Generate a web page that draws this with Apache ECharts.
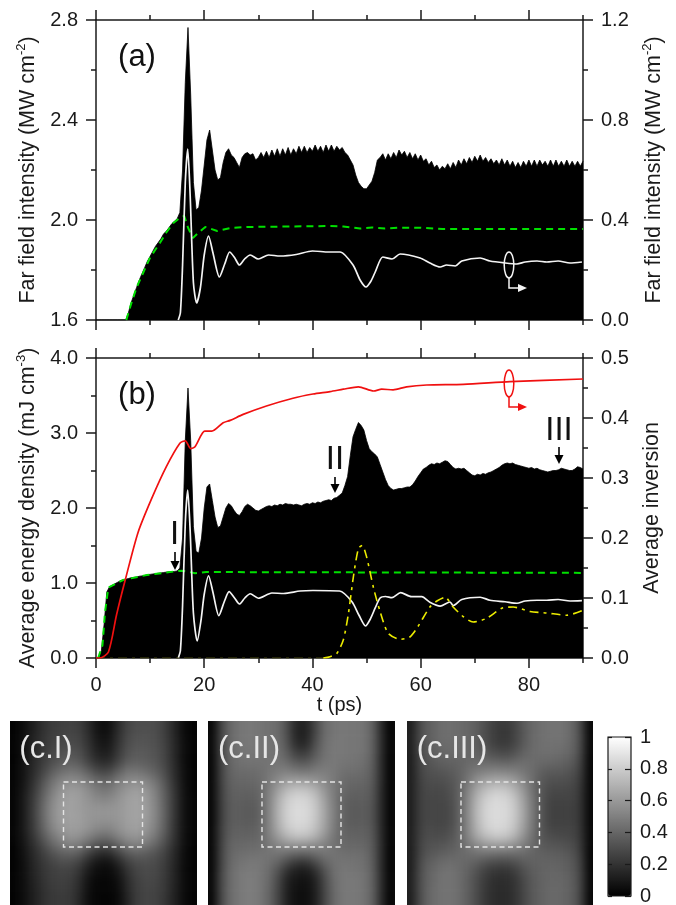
<!DOCTYPE html>
<html>
<head>
<meta charset="utf-8">
<style>html,body{margin:0;padding:0;background:#fff;width:676px;height:905px;overflow:hidden}#c{width:676px;height:930px}</style>
<script src="https://cdn.jsdelivr.net/npm/echarts@6/dist/echarts.min.js"></script>
</head>
<body>
<div id="c"></div>
<script>
// time base of the dense envelopes: 0 .. 90 ps, one value every 0.5 ps
const tFine = Array.from({length: 181}, (_, i) => i / 2);

// panel (a), left axis
const blackA = [
1.6,1.6,1.6,1.6,1.6,1.6,1.6,1.6,1.6,1.6,1.6,1.6,1.63,1.67,1.70,1.73,1.76,1.785,1.81,1.835,
1.855,1.875,1.895,1.91,1.925,1.945,1.955,1.97,1.985,1.995,2.005,2.03,2.2,2.55,2.77,2.5,2.15,2.04,2.05,2.12,
2.22,2.32,2.36,2.28,2.2,2.16,2.17,2.23,2.27,2.285,2.26,2.25,2.23,2.21,2.25,2.265,2.27,2.26,2.265,2.24,
2.25,2.27,2.25,2.275,2.25,2.28,2.255,2.285,2.255,2.285,2.26,2.29,2.26,2.285,2.265,2.295,2.27,2.295,2.27,2.29,
2.275,2.3,2.275,2.295,2.27,2.3,2.275,2.3,2.275,2.295,2.28,2.29,2.27,2.26,2.24,2.22,2.18,2.15,2.135,2.125,
2.125,2.14,2.155,2.19,2.24,2.25,2.265,2.24,2.265,2.245,2.27,2.25,2.28,2.26,2.275,2.25,2.27,2.245,2.265,2.24,
2.26,2.235,2.245,2.22,2.235,2.21,2.22,2.2,2.215,2.205,2.225,2.205,2.23,2.21,2.24,2.22,2.245,2.225,2.25,2.23,
2.255,2.235,2.26,2.235,2.25,2.23,2.245,2.225,2.24,2.22,2.245,2.22,2.24,2.215,2.235,2.21,2.23,2.21,2.235,2.215,
2.24,2.215,2.24,2.215,2.24,2.22,2.235,2.215,2.24,2.215,2.24,2.215,2.235,2.215,2.24,2.215,2.235,2.215,2.235,2.215,
2.235];
const greenAT = [5.6,6.5,7.5,8.7,10,11.8,13,14.3,15.3,16.3,17,17.9,19,20.2,21.2,22.4,24.9,28,43,45.7,48.8,51,53.4,56,60,64,90];
const greenAV = [1.6,1.665,1.73,1.788,1.85,1.908,1.95,1.988,2.005,2.016,1.97,1.928,1.95,1.972,1.965,1.956,1.968,1.972,1.976,1.974,1.966,1.97,1.966,1.969,1.969,1.964,1.964];
// panel (a), right axis
const whiteAT = [15.2,15.6,16,16.5,16.95,17.4,18,18.6,19.3,20,20.8,21.6,22.8,23.8,24.7,25.6,26.5,27.5,28.5,30,31.9,34,37,40,43,45.1,47.5,48.8,49.9,50.8,51.6,53,54.7,56.2,59.9,61.7,63.6,64.8,66.4,67.6,71,72.8,75.6,77.8,79.3,81.5,83.3,85.4,87.6,89.8];
const whiteAV = [0,.03,.22,.55,.684,.5,.15,.068,.13,.26,.336,.27,.172,.225,.272,.25,.22,.245,.26,.244,.26,.256,.262,.276,.272,.272,.22,.16,.132,.155,.192,.252,.244,.264,.248,.228,.212,.22,.216,.236,.248,.236,.228,.224,.232,.236,.232,.236,.228,.232];

// panel (b), left axis
const blackB = [
0,0,.1,.45,.88,.95,.97,.99,1.01,1.03,1.04,1.05,1.06,1.07,1.075,1.08,1.09,1.095,1.10,1.11,
1.115,1.12,1.125,1.13,1.135,1.14,1.145,1.15,1.15,1.155,1.16,1.2,1.6,2.9,3.6,2.9,1.75,1.42,1.4,1.6,
2.0,2.28,2.32,2.1,1.88,1.74,1.76,1.88,2.0,2.06,2.03,1.97,1.92,1.9,1.95,2.02,2.05,2.03,2.0,1.97,
1.96,1.98,2.0,2.02,2.03,2.02,2.04,2.03,2.05,2.04,2.06,2.05,2.05,2.04,2.05,2.04,2.03,2.05,2.06,2.05,
2.07,2.06,2.08,2.07,2.09,2.1,2.11,2.1,2.13,2.14,2.17,2.2,2.3,2.42,2.7,2.95,3.05,3.14,3.1,3.04,
2.9,2.79,2.75,2.72,2.68,2.58,2.48,2.38,2.3,2.26,2.24,2.25,2.26,2.26,2.27,2.28,2.28,2.31,2.36,2.42,
2.47,2.52,2.54,2.57,2.59,2.58,2.6,2.59,2.61,2.63,2.62,2.58,2.54,2.52,2.53,2.52,2.53,2.5,2.47,2.44,
2.43,2.45,2.44,2.46,2.45,2.47,2.48,2.5,2.52,2.54,2.57,2.59,2.6,2.59,2.6,2.58,2.57,2.56,2.55,2.54,
2.53,2.54,2.52,2.53,2.51,2.5,2.49,2.48,2.49,2.5,2.5,2.51,2.53,2.52,2.51,2.5,2.5,2.52,2.55,2.54,
2.52];
const greenBT = [0.4,1.2,1.66,2.28,5,9.4,15.2,15.8,17,18.3,20.4,89.6];
const greenBV = [0,.17,.61,.94,1.04,1.107,1.16,1.164,1.151,1.13,1.146,1.135];
const whiteBT = [15.2,15.6,16,16.5,16.95,17.4,18,18.7,19.4,20,20.8,21.6,22.7,23.7,24.6,25.6,26.5,27.5,28.5,30,32.5,34.7,37.7,40.1,45,47.3,48.6,49.8,50.7,51.6,52.5,53.5,54.7,56.3,58.3,60.2,61.7,63.6,65.4,66,67.6,71,72.8,75.6,77.8,79.3,81.5,83.3,85.4,87.6,89.8];
const whiteBV = [0,.1,.7,1.8,2.24,1.7,.6,.227,.5,.85,1.097,.88,.564,.75,.884,.8,.72,.8,.857,.797,.867,.86,.893,.9,.893,.75,.57,.427,.52,.667,.8,.82,.804,.871,.818,.818,.744,.693,.747,.7,.78,.81,.77,.75,.73,.76,.77,.77,.78,.76,.765];
const yellowBT = [42,43.25,44.5,45.7,46.6,47.6,48.5,49.2,50,51.3,52.5,54,56.2,58,59.5,61.7,63,64.5,66,67.9,69.7,72.2,75.2,77.1,80.2,83.3,87,89.8];
const yellowBV = [0,.018,.06,.24,.57,1.1,1.46,1.5,1.35,.93,.62,.33,.25,.28,.42,.68,.76,.81,.68,.55,.48,.53,.67,.68,.62,.6,.57,.63];
const yellowFlatT = [0,42];
const yellowFlatV = [0,0];
// panel (b), right axis
const redBT = [0,.7,2.3,3.8,5.4,7.8,10.3,13,15.5,16.5,17.5,18.3,20.1,21.4,23.5,24.8,27.2,31.5,36.4,40.1,43.25,45.7,48.5,51.3,52.8,54.9,57.4,61.1,67.9,76.5,90];
const redBV = [0,0,.01,.072,.13,.21,.266,.319,.358,.362,.349,.352,.378,.378,.392,.396,.406,.42,.433,.44,.444,.448,.452,.445,.448,.447,.452,.455,.456,.4605,.465];

// intensity maps, 20 rows of 20 cells
const mapI = [
[.01,.05,.12,.19,.23,.25,.26,.24,.16,.06,.05,.16,.26,.3,.31,.3,.25,.16,.05,.01],
[.01,.05,.13,.19,.24,.26,.27,.25,.17,.07,.06,.17,.27,.31,.32,.3,.25,.16,.05,.01],
[.01,.06,.14,.2,.25,.28,.29,.27,.19,.09,.08,.19,.29,.33,.33,.31,.26,.17,.06,.01],
[.01,.06,.15,.21,.27,.31,.33,.3,.21,.12,.11,.21,.31,.35,.35,.32,.27,.17,.06,.01],
[.01,.07,.16,.23,.3,.36,.38,.35,.26,.18,.17,.26,.36,.38,.37,.34,.28,.18,.06,.01],
[.02,.08,.17,.26,.36,.43,.46,.44,.36,.28,.27,.36,.45,.46,.43,.38,.3,.19,.07,.01],
[.02,.08,.19,.31,.43,.52,.55,.53,.47,.4,.39,.47,.53,.55,.52,.45,.34,.2,.07,.01],
[.02,.09,.21,.35,.48,.58,.61,.6,.54,.47,.46,.53,.59,.62,.59,.5,.37,.22,.08,.01],
[.02,.1,.23,.38,.52,.61,.63,.61,.57,.53,.52,.57,.62,.64,.61,.52,.38,.23,.08,.02],
[.02,.1,.24,.4,.54,.62,.63,.61,.59,.58,.58,.59,.62,.64,.62,.53,.39,.23,.08,.02],
[.02,.1,.24,.4,.54,.62,.63,.62,.59,.58,.58,.59,.62,.64,.62,.53,.39,.23,.08,.02],
[.02,.1,.23,.38,.52,.6,.62,.61,.58,.54,.53,.57,.61,.63,.6,.51,.38,.22,.08,.02],
[.02,.09,.21,.34,.46,.55,.59,.57,.51,.45,.44,.51,.57,.59,.56,.47,.35,.21,.07,.01],
[.01,.08,.18,.28,.39,.47,.5,.47,.39,.31,.3,.38,.47,.5,.47,.4,.3,.19,.07,.01],
[.01,.07,.16,.24,.31,.37,.38,.34,.24,.16,.15,.24,.33,.37,.36,.32,.26,.17,.06,.01],
[.01,.06,.15,.21,.26,.3,.29,.24,.14,.07,.06,.13,.23,.29,.31,.29,.24,.16,.06,.01],
[.01,.06,.14,.2,.24,.26,.25,.19,.09,.04,.03,.08,.18,.26,.29,.28,.23,.15,.05,.01],
[.01,.05,.13,.19,.23,.25,.23,.16,.06,.02,.02,.05,.15,.24,.28,.27,.22,.15,.05,.01],
[.01,.05,.12,.18,.22,.24,.22,.15,.05,.02,.02,.04,.14,.23,.27,.26,.22,.14,.05,.01],
[.01,.05,.12,.18,.22,.23,.22,.14,.05,.02,.01,.04,.13,.23,.27,.26,.21,.14,.05,.01]];
const mapII = [
[.03,.28,.42,.46,.47,.46,.44,.42,.3,.14,.13,.28,.42,.46,.47,.46,.46,.4,.18,.01],
[.03,.28,.42,.46,.47,.46,.44,.42,.3,.13,.12,.28,.42,.46,.47,.46,.46,.4,.18,.01],
[.03,.28,.42,.46,.47,.46,.45,.43,.32,.16,.15,.31,.43,.47,.47,.46,.46,.4,.18,.01],
[.03,.28,.42,.45,.46,.46,.45,.44,.36,.24,.23,.35,.44,.47,.47,.46,.45,.4,.18,.01],
[.03,.28,.41,.44,.45,.45,.45,.46,.42,.35,.34,.41,.46,.47,.46,.45,.44,.39,.18,.01],
[.03,.27,.4,.42,.42,.43,.46,.49,.5,.47,.46,.49,.49,.47,.44,.43,.42,.38,.18,.01],
[.03,.27,.39,.4,.4,.42,.47,.55,.61,.62,.61,.58,.53,.47,.42,.4,.4,.37,.18,.01],
[.03,.26,.38,.38,.38,.4,.49,.62,.73,.77,.76,.7,.58,.48,.41,.38,.38,.36,.17,.01],
[.03,.26,.37,.37,.36,.39,.5,.67,.8,.84,.83,.76,.62,.48,.39,.36,.37,.35,.17,.01],
[.03,.25,.37,.36,.35,.38,.5,.69,.82,.86,.85,.78,.64,.49,.39,.35,.36,.34,.17,.01],
[.03,.25,.37,.36,.35,.38,.5,.69,.82,.86,.85,.78,.64,.49,.39,.35,.36,.34,.17,.01],
[.03,.26,.37,.37,.36,.39,.5,.67,.8,.84,.83,.76,.63,.48,.39,.36,.37,.35,.17,.01],
[.03,.26,.38,.38,.38,.4,.49,.61,.72,.77,.76,.7,.58,.46,.4,.38,.38,.36,.17,.01],
[.03,.27,.4,.4,.41,.42,.46,.52,.57,.58,.57,.55,.5,.44,.41,.4,.4,.37,.18,.01],
[.03,.28,.41,.43,.44,.45,.45,.45,.42,.38,.37,.42,.45,.45,.44,.43,.43,.38,.18,.01],
[.03,.28,.42,.45,.47,.47,.44,.38,.28,.2,.19,.28,.38,.44,.46,.45,.44,.39,.18,.01],
[.03,.29,.43,.47,.48,.47,.42,.31,.17,.1,.09,.17,.31,.43,.47,.46,.45,.4,.18,.01],
[.03,.29,.43,.47,.49,.47,.41,.28,.13,.07,.06,.13,.28,.42,.47,.47,.46,.4,.18,.01],
[.03,.29,.43,.47,.49,.47,.4,.27,.12,.06,.05,.12,.27,.41,.47,.47,.46,.4,.18,.01],
[.03,.29,.43,.47,.49,.47,.4,.27,.12,.06,.05,.12,.27,.41,.47,.47,.46,.4,.18,.01]];
const mapIII = [
[.12,.3,.38,.42,.43,.42,.4,.36,.3,.24,.22,.27,.35,.41,.44,.45,.45,.42,.3,.03],
[.12,.3,.38,.42,.43,.42,.4,.36,.29,.23,.2,.26,.34,.41,.44,.45,.45,.42,.3,.03],
[.12,.3,.37,.41,.42,.42,.4,.36,.3,.24,.22,.27,.35,.41,.44,.44,.44,.41,.3,.03],
[.12,.29,.36,.39,.41,.41,.4,.38,.34,.3,.28,.32,.38,.42,.43,.43,.42,.4,.29,.03],
[.12,.28,.34,.37,.38,.39,.41,.42,.42,.4,.39,.41,.43,.42,.41,.4,.39,.37,.27,.03],
[.12,.27,.32,.33,.35,.38,.43,.48,.51,.52,.51,.5,.46,.42,.37,.35,.35,.33,.25,.03],
[.12,.26,.3,.3,.32,.37,.46,.57,.64,.66,.66,.61,.52,.42,.34,.31,.31,.3,.23,.03],
[.12,.25,.29,.28,.3,.37,.5,.65,.75,.79,.78,.71,.58,.43,.33,.28,.28,.28,.22,.03],
[.12,.25,.28,.27,.29,.37,.52,.7,.81,.85,.84,.77,.62,.45,.32,.26,.26,.27,.21,.03],
[.12,.25,.28,.27,.28,.37,.53,.72,.83,.86,.85,.79,.64,.46,.32,.25,.25,.26,.21,.03],
[.12,.25,.28,.27,.28,.37,.53,.72,.83,.86,.85,.79,.64,.46,.32,.25,.25,.26,.21,.03],
[.12,.25,.29,.27,.29,.37,.52,.7,.82,.85,.84,.77,.62,.45,.32,.26,.26,.27,.21,.03],
[.12,.26,.3,.29,.31,.38,.51,.66,.75,.79,.78,.71,.57,.43,.33,.29,.28,.28,.22,.03],
[.12,.27,.32,.32,.35,.39,.46,.54,.6,.62,.61,.57,.49,.41,.35,.33,.32,.31,.23,.03],
[.12,.28,.35,.37,.39,.41,.42,.44,.44,.42,.41,.42,.41,.39,.38,.37,.36,.34,.25,.03],
[.12,.3,.38,.41,.43,.42,.4,.36,.31,.28,.27,.3,.35,.38,.39,.39,.38,.36,.27,.03],
[.12,.31,.4,.43,.45,.43,.38,.31,.24,.2,.19,.23,.3,.36,.39,.4,.39,.37,.28,.03],
[.12,.31,.4,.44,.45,.43,.37,.29,.22,.17,.17,.2,.28,.35,.39,.4,.4,.38,.28,.03],
[.12,.31,.41,.44,.45,.43,.37,.29,.21,.17,.16,.2,.27,.35,.39,.41,.4,.38,.28,.03],
[.12,.31,.41,.44,.45,.43,.37,.29,.21,.17,.16,.2,.27,.35,.39,.41,.4,.38,.28,.03]];

const xMajor = [0,20,40,60,80];
const xMinor = [10,30,50,70,90];

const FONT = '"Liberation Sans", Arial, sans-serif';
const INK = '#1a1a1a';
const AXW = 1.5;
const zip = (a, b) => a.map((v, i) => [v, b[i]]);

const line = {show: true, onZero: false, lineStyle: {color: INK, width: AXW}};
const labelStyle = {fontFamily: FONT, fontSize: 20, color: INK};

const grids = [], xAxes = [], yAxes = [], series = [];

function xAxisPair(g, ticks, len, withLine, withLabels, name) {
  ['bottom', 'top'].forEach(pos => {
    xAxes.push({
      type: 'value', gridIndex: g, position: pos, min: 0, max: 90,
      axisLine: withLine ? line : {show: false},
      axisTick: {show: true, customValues: ticks, length: len, lineStyle: {color: INK, width: AXW}},
      axisLabel: (withLabels && pos === 'bottom')
        ? Object.assign({show: true, customValues: ticks, margin: 17}, labelStyle) : {show: false},
      splitLine: {show: false},
      name: (name && pos === 'bottom') ? name : '',
      nameLocation: 'middle', nameGap: 37,
      nameTextStyle: labelStyle
    });
  });
}
function yAxisOf(g, pos, min, max, interval, dec, name, gap) {
  return {
    type: 'value', gridIndex: g, position: pos, min, max, interval,
    axisLine: line,
    axisTick: {show: true, length: 10, lineStyle: {color: INK, width: AXW}},
    minorTick: {show: true, splitNumber: 2, length: 5, lineStyle: {color: INK, width: AXW}},
    axisLabel: Object.assign({show: true, margin: 18, formatter: v => v.toFixed(dec)}, labelStyle),
    splitLine: {show: false}, minorSplitLine: {show: false},
    name, nameLocation: 'middle', nameGap: gap, nameRotate: 90,
    nameTextStyle: {
      fontFamily: FONT, fontSize: 21.5, color: INK,
      rich: {
        m: {fontFamily: FONT, fontSize: 21.5, color: INK, lineHeight: 24, verticalAlign: 'bottom'},
        s: {fontFamily: FONT, fontSize: 13, color: INK, lineHeight: 24, verticalAlign: 'top'}
      }
    }
  };
}
const rect = top => ({left: 96, top, width: 487, height: 300, containLabel: false, outerBoundsMode: 'none'});
function panel(top, hasLabels, yL, yR) {
  const g = grids.length;
  grids.push(rect(top));
  xAxisPair(g, xMajor, 10, true, hasLabels, hasLabels ? 't (ps)' : '');
  yAxes.push(yL, yR);
  const gm = grids.length;
  grids.push(rect(top));
  xAxisPair(gm, xMinor, 5, false, false, '');
  yAxes.push({type: 'value', gridIndex: gm, min: 0, max: 1, show: false});
  return {x: xAxes.length - 4, y: yAxes.length - 3};
}
const pa = panel(20, false,
  yAxisOf(0, 'left', 1.6, 2.8, 0.4, 1, '{m|Far field intensity (MW cm}{s|-2}{m|)}', 52),
  yAxisOf(0, 'right', 0, 1.2, 0.4, 1, '{m|Far field intensity (MW cm}{s|-2}{m|)}', 58));
const pb = panel(358, true,
  yAxisOf(2, 'left', 0, 4, 1, 1, '{m|Average energy density (mJ cm}{s|-3}{m|)}', 52),
  yAxisOf(2, 'right', 0, 0.5, 0.1, 1, 'Average inversion', 58));

function lineSeries(name, p, yOff, data, color, width, dash, smooth) {
  return {
    name, type: 'line', xAxisIndex: p.x, yAxisIndex: p.y + yOff, data,
    showSymbol: false, symbol: 'none', smooth: smooth ? 0.25 : false, animation: false, silent: true,
    lineStyle: {color, width, type: dash || 'solid'}, z: 3
  };
}
function areaSeries(name, p, data) {
  return {
    name, type: 'line', xAxisIndex: p.x, yAxisIndex: p.y, data,
    showSymbol: false, symbol: 'none', animation: false, silent: true,
    lineStyle: {color: '#000', width: 0.8},
    areaStyle: {color: '#000', opacity: 1, origin: 'start'}, z: 2
  };
}
const GREEN = '#00e000', YEL = '#ecec00', RED = '#f01010';
series.push(
  areaSeries('Far field envelope', pa, zip(tFine, blackA)),
  lineSeries('Far field average', pa, 0, zip(greenAT, greenAV), GREEN, 2, [7, 5], false),
  lineSeries('Far field right', pa, 1, zip(whiteAT, whiteAV), '#f4f4f4', 1.7, null, true),
  areaSeries('Energy density envelope', pb, zip(tFine, blackB)),
  lineSeries('Energy density average', pb, 0, zip(greenBT, greenBV), GREEN, 2, [7, 5], false),
  lineSeries('Energy density fine', pb, 0, zip(whiteBT, whiteBV), '#f4f4f4', 1.7, null, true),
  lineSeries('Energy density lower flat', pb, 0, zip(yellowFlatT, yellowFlatV), '#4a4a10', 1, [9, 5, 3, 5], false),
  lineSeries('Energy density lower', pb, 0, zip(yellowBT, yellowBV), YEL, 1.6, [9, 5, 3, 5], true),
  lineSeries('Average inversion', pb, 1, zip(redBT, redBV), RED, 1.7, null, true)
);

// maps: one extra cell round the picture so the softening has no pale rim
const CW = 9.35, CH = 9.2, TOP = 721, idx = Array.from({length: 22}, (_, i) => i);
const heatIdx = [];
[[10, mapI], [208, mapII], [407, mapIII]].forEach(([left, m]) => {
  const g = grids.length;
  grids.push({left: left - CW, top: TOP - CH, width: CW * 22, height: CH * 22, outerBoundsMode: 'none'});
  xAxes.push({type: 'category', gridIndex: g, data: idx, show: false});
  yAxes.push({type: 'category', gridIndex: g, data: idx, show: false, inverse: true});
  const cells = [];
  idx.forEach(r => idx.forEach(c => {
    const rr = Math.min(19, Math.max(0, r - 1)), cc = Math.min(19, Math.max(0, c - 1));
    cells.push([c, r, m[rr][cc]]);
  }));
  heatIdx.push(series.length);
  series.push({
    type: 'heatmap', xAxisIndex: xAxes.length - 1, yAxisIndex: yAxes.length - 1,
    data: cells, zlevel: 1, silent: true, animation: false, progressive: 0,
    itemStyle: {borderWidth: 0}, emphasis: {disabled: true}
  });
});

// colour bar scale
const gBar = grids.length;
grids.push({left: 608, top: 737, width: 23, height: 159, show: true, borderColor: INK, borderWidth: 1.2, backgroundColor: 'transparent', z: 6, outerBoundsMode: 'none'});
xAxes.push({type: 'value', gridIndex: gBar, min: 0, max: 1, show: false});
yAxes.push({
  type: 'value', gridIndex: gBar, position: 'right', min: 0, max: 1, interval: 0.2,
  axisLine: {show: false}, z: 7,
  axisTick: {show: true, length: 4, lineStyle: {color: INK, width: 1.2}},
  axisLabel: Object.assign({show: true, margin: 9, formatter: v => (v === 0 || v === 1) ? String(v) : v.toFixed(1)}, labelStyle),
  splitLine: {show: false}
});
yAxes.push({
  type: 'value', gridIndex: gBar, position: 'left', offset: -23, min: 0, max: 1, interval: 0.2,
  axisLine: {show: false}, z: 7,
  axisTick: {show: true, length: 6, lineStyle: {color: INK, width: 1.2}},
  axisLabel: {show: false}, splitLine: {show: false}
});

// annotations
function txt(x, y, text, fill, size, zlevel) {
  return {type: 'text', x, y, zlevel: zlevel || 0, z: 20, silent: true,
    style: {text, x: 0, y: 0, fontFamily: FONT, fontSize: size || 31, fill: fill || '#111', textAlign: 'center', textVerticalAlign: 'middle'}};
}
function downArrow(x, y0, y1) {
  return [
    {type: 'line', z: 20, silent: true, shape: {x1: x, y1: y0, x2: x, y2: y1 - 6}, style: {stroke: '#000', lineWidth: 1.6}},
    {type: 'polygon', z: 20, silent: true, shape: {points: [[x - 4.5, y1 - 9], [x + 4.5, y1 - 9], [x, y1]]}, style: {fill: '#000'}}
  ];
}
function handle(x, yTop, yBot, color) {
  const yArr = yBot + 10;
  return [
    {type: 'ellipse', z: 20, silent: true, shape: {cx: x, cy: (yTop + yBot) / 2, rx: 4.8, ry: (yBot - yTop) / 2}, style: {stroke: color, fill: 'transparent', lineWidth: 1.5}},
    {type: 'polyline', z: 20, silent: true, shape: {points: [[x, yBot], [x, yArr], [x + 11, yArr]]}, style: {stroke: color, fill: 'transparent', lineWidth: 1.5}},
    {type: 'polygon', z: 20, silent: true, shape: {points: [[x + 9, yArr - 4], [x + 9, yArr + 4], [x + 18, yArr]]}, style: {fill: color}}
  ];
}
function box(x0, x1) {
  return {type: 'rect', zlevel: 2, z: 20, silent: true, shape: {x: x0, y: 782, width: x1 - x0, height: 65},
    style: {stroke: '#e4e4e4', fill: 'transparent', lineWidth: 1.4, lineDash: [5, 3.5]}};
}
const elements = [].concat(
  [txt(137, 57, '(a)', '#111', 31), txt(137, 395, '(b)', '#111', 31)],
  [txt(174.5, 535, 'I', '#111', 33), txt(335, 460, 'II', '#111', 33), txt(559, 431, 'III', '#111', 33)],
  downArrow(175, 552, 570), downArrow(335, 477, 493), downArrow(559, 447, 464),
  handle(509, 252, 278, '#f4f4f4'), handle(509, 370, 397, RED),
  [txt(46, 749, '(c.I)', '#e6e6e6', 31, 2), txt(249, 749, '(c.II)', '#e6e6e6', 31, 2), txt(452, 749, '(c.III)', '#e6e6e6', 31, 2)],
  [box(63.5, 142.5), box(262, 341), box(461, 539.5)]
);

const chart = echarts.init(document.getElementById('c'), null, {renderer: 'canvas', width: 676, height: 930});
chart.setOption({
  animation: false, backgroundColor: '#fff',
  textStyle: {fontFamily: FONT},
  grid: grids, xAxis: xAxes, yAxis: yAxes, series,
  visualMap: {
    type: 'continuous', min: 0, max: 1, show: true, seriesIndex: heatIdx, calculable: false,
    left: 608, top: 737, itemWidth: 23, itemHeight: 159, text: null, showLabel: false, padding: 0,
    inRange: {color: ['#000000', '#ffffff']}, hoverLink: false, realtime: false, textStyle: {color: 'transparent', fontSize: 1}
  },
  graphic: {elements}
});
// soften the map layer and keep it inside the three picture frames
const heatLayer = chart.getZr().painter.getLayer(1);
if (heatLayer && heatLayer.dom) {
  heatLayer.dom.style.filter = 'blur(4.5px)';
  heatLayer.dom.style.clipPath = 'path("M10 721H197V905H10Z M208 721H395V905H208Z M407 721H593V905H407Z")';
}
</script>
</body>
</html>
